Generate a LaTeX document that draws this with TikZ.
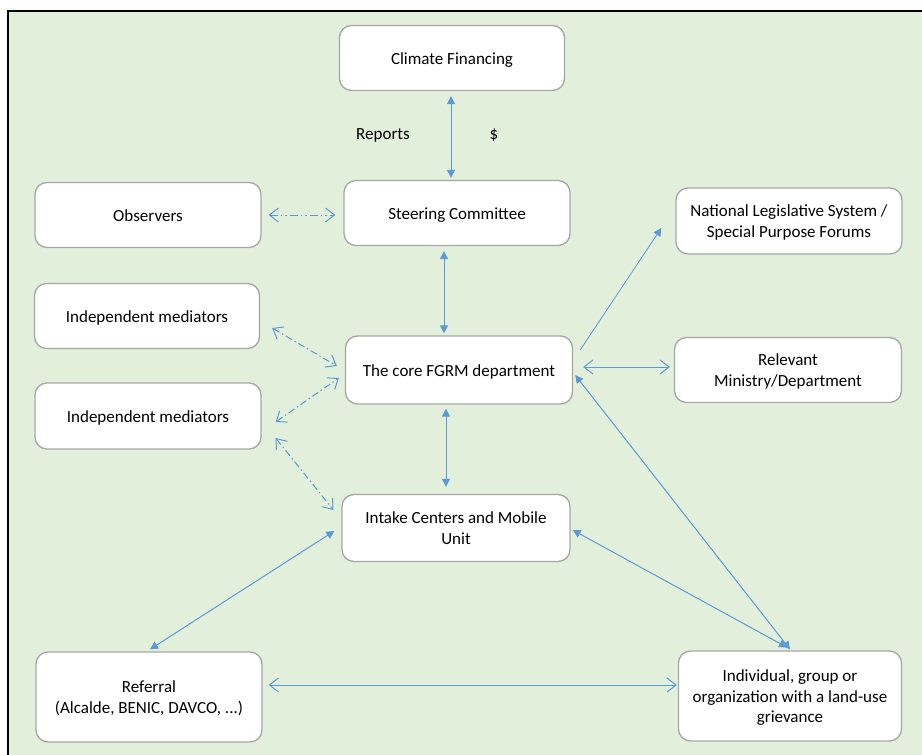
\documentclass[tikz,border=0pt]{standalone}
\usepackage{fontspec}
\setmainfont{Carlito}
\usetikzlibrary{arrows.meta}
\definecolor{bgreen}{RGB}{226,239,218}
\definecolor{ablue}{RGB}{91,155,213}
\definecolor{bgray}{RGB}{166,166,166}
\newcommand{\boxtext}[1]{\raisebox{-2pt}[\height][\depth]{\begin{tabular}{@{}c@{}}#1\end{tabular}}}
\tikzset{
  box/.style={draw=bgray,line width=1.3pt,fill=white,rounded corners=12pt,inner sep=0pt,font=\fontsize{17}{20.5}\selectfont},
  lbl/.style={inner sep=0pt,font=\fontsize{17}{20.5}\selectfont},
  solidtwo/.style={draw=ablue,line width=1pt,{Triangle[length=8pt,width=8pt]}-{Triangle[length=8pt,width=8pt]}},
  solidone/.style={draw=ablue,line width=0.8pt,-{Triangle[length=8pt,width=8pt]}},
  opentwo/.style={draw=ablue,line width=1pt,{Straight Barb[length=9pt,width=14pt]}-{Straight Barb[length=9pt,width=14pt]}},
  dashtwo/.style={opentwo,dash pattern=on 7pt off 3pt on 1.5pt off 3pt},
  dashdd/.style={opentwo,dash pattern=on 8pt off 3pt on 1.5pt off 3pt on 1.5pt off 3pt}
}
\begin{document}
\begin{tikzpicture}[x=1pt,y=-1pt]
\useasboundingbox (0,0) rectangle (922,755);
\fill[bgreen] (8,11) rectangle (922,755);
\draw[line width=1.5pt,black] (8,755) -- (8,11) -- (922,11);

\node[box,minimum width=225pt,minimum height=65pt] (clim) at (452,58) {\boxtext{Climate Financing}};
\node[box,minimum width=226pt,minimum height=65pt] (steer) at (457,213) {\boxtext{Steering Committee}};
\node[box,minimum width=226pt,minimum height=65pt] (obs) at (148,215) {\boxtext{Observers}};
\node[box,minimum width=226pt,minimum height=66pt] (nat) at (789,221) {\boxtext{National Legislative System /\\Special Purpose Forums}};
\node[box,minimum width=225pt,minimum height=65pt] (ind1) at (147,316) {\boxtext{Independent mediators}};
\node[box,minimum width=227pt,minimum height=68pt] (core) at (459,370) {\boxtext{The core FGRM department}};
\node[box,minimum width=227pt,minimum height=65pt] (rel) at (788,370) {\boxtext{Relevant\\Ministry/Department}};
\node[box,minimum width=226pt,minimum height=66pt] (ind2) at (148,416) {\boxtext{Independent mediators}};
\node[box,minimum width=228pt,minimum height=67pt] (intake) at (456,528) {\boxtext{Intake Centers and Mobile\\Unit}};
\node[box,minimum width=226pt,minimum height=90pt] (ref) at (149,697) {\boxtext{Referral\\(Alcalde, BENIC, DAVCO, ...)}};
\node[box,minimum width=223pt,minimum height=90pt] (indiv) at (790,696) {\boxtext{Individual, group or\\organization with a land-use\\grievance}};

\node[lbl] (rep) at (383,135) {Reports};
\node[lbl] (dol) at (494,135) {\$};

% solid double arrows
\draw[solidtwo,shorten <=5pt,shorten >=2pt] ([xshift=-1pt]clim.south) -- ([xshift=-6pt]steer.north);
\draw[solidtwo,shorten <=5pt,shorten >=2pt] ([xshift=-13pt]steer.south) -- ([xshift=-15pt]core.north);
\draw[solidtwo,shorten <=4pt,shorten >=7pt] ([xshift=-13pt]core.south) -- ([xshift=-10pt]intake.north);
\draw[solidtwo] ([xshift=2pt,yshift=-5pt]core.east) -- ([yshift=1pt]indiv.north);
\draw[solidtwo] ([xshift=2pt,yshift=-2pt]intake.east) -- ([xshift=-3pt,yshift=3pt]indiv.north);
\draw[solidtwo] ([xshift=-7pt,yshift=-3pt]intake.west) -- ([xshift=1pt,yshift=2pt]ref.north);
% single arrow
\draw[solidone] ([xshift=7pt,yshift=20pt]core.east) -- ([xshift=-14pt,yshift=-7pt]nat.west);
% open double arrows
\draw[opentwo] ([xshift=10pt,yshift=3pt]core.east) -- ([xshift=-4pt,yshift=3pt]rel.west);
\draw[opentwo] ([xshift=6pt,yshift=12pt]ref.east) -- ([xshift=-1pt,yshift=11pt]indiv.west);
% dashed
\draw[dashdd,shorten <=7pt,shorten >=8pt] (obs.east) -- (obs.east -| steer.west);
\draw[dashtwo] ([xshift=12pt,yshift=-12pt]ind1.east) -- ([xshift=-8pt,yshift=4pt]core.west);
\draw[dashtwo] ([xshift=14pt,yshift=-6pt]ind2.east) -- ([xshift=-6pt,yshift=-8pt]core.west);
\draw[dashtwo] ([xshift=14pt,yshift=-22pt]ind2.east) -- ([xshift=-8pt,yshift=18pt]intake.west);
\end{tikzpicture}
\end{document}
